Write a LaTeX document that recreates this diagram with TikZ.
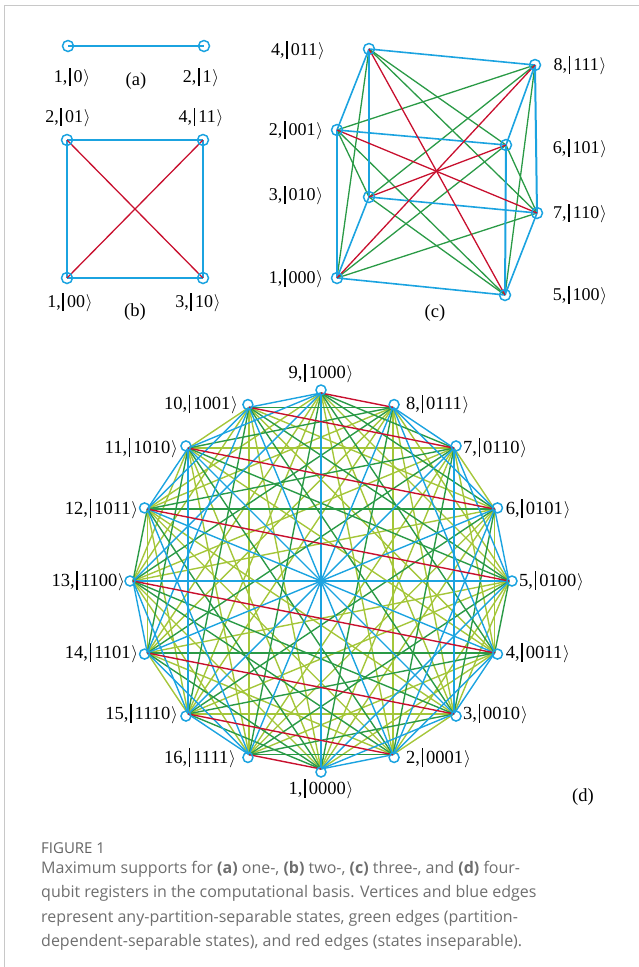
\documentclass[tikz,border=0pt]{standalone}
\usepackage{fontspec}
\setmainfont{Liberation Serif}
\newfontfamily\capfont{Open Sans}
\usepackage{xcolor}
\definecolor{qBlue}{HTML}{1BA3E0}
\definecolor{qRed}{HTML}{C8102E}
\definecolor{qDkGreen}{HTML}{2A9A46}
\definecolor{qLtGreen}{HTML}{A4C639}
\definecolor{capGray}{HTML}{6E6E6E}
\definecolor{frameGray}{HTML}{C8C8C8}
\usepackage{tikz}
\usetikzlibrary{positioning}
\newcommand{\qket}[1]{\kern1.5pt\rule[-0.19em]{1.7pt}{1em}\kern3pt#1\kern0.8pt$\rangle$}

\begin{document}
\begin{tikzpicture}[x=1pt, y=-1pt,
    lab/.style={inner sep=0pt, font=\fontsize{18}{20}\selectfont},
    labd/.style={inner sep=0pt, font=\fontsize{18.5}{20}\selectfont},
    tag/.style={inner sep=0pt, font=\fontsize{18.5}{22}\selectfont},
    vtx/.style={qBlue, line width=1.5pt},
    thickblue/.style={qBlue, line width=2pt},
    edge/.style={line width=1.3pt},
    dedge/.style={line width=1.4pt}]
  \useasboundingbox (0,0) rectangle (639,967);
  \draw[frameGray, line width=0.8pt] (4,967) -- (4,5) -- (639,5);
  % ---- (a) one qubit ----
  \coordinate (a1) at (68,46);
  \coordinate (a2) at (204,46);
  \draw[thickblue] (a1) -- (a2);
  \foreach \v in {a1,a2} \draw[vtx] (\v) circle (5.5pt);
  \node[lab] (la1) at (72,77) {1,\qket{0}};
  \node[lab] (la2) at (201,77) {2,\qket{1}};
  \node[tag] (taga) at (136,81) {(a)};
  % ---- (b) two qubits ----
  \coordinate (b1) at (67,278);
  \coordinate (b2) at (67,140);
  \coordinate (b3) at (203,278);
  \coordinate (b4) at (203,140);
  \foreach \p/\q in {1/2,1/3,2/4,3/4} \draw[thickblue] (b\p) -- (b\q);
  \foreach \p/\q in {1/4,2/3} \draw[edge, qRed] (b\p) -- (b\q);
  \foreach \v in {1,...,4} \draw[vtx] (b\v) circle (5.5pt);
  \node[lab] (lb2) at (68,117) {2,\qket{01}};
  \node[lab] (lb4) at (201,117) {4,\qket{11}};
  \node[lab] (lb1) at (70,302) {1,\qket{00}};
  \node[lab] (lb3) at (198,302) {3,\qket{10}};
  \node[tag] (tagb) at (135,312) {(b)};
  % ---- (c) three qubits ----
  \coordinate (c1) at (337,278);
  \coordinate (c2) at (337,130);
  \coordinate (c3) at (369,197);
  \coordinate (c4) at (369,49);
  \coordinate (c5) at (505,295);
  \coordinate (c6) at (506,145);
  \coordinate (c7) at (537,213);
  \coordinate (c8) at (535,65);
  \foreach \p/\q in {1/4,1/6,1/7,2/3,2/5,2/8,3/5,3/8,4/6,4/7,5/8,6/7}
    \draw[edge, qDkGreen] (c\p) -- (c\q);
  \foreach \p/\q in {1/3,1/5,2/4,2/6,3/7,4/8,5/7,6/8}
    \draw[edge, qBlue, line width=1.6pt] (c\p) -- (c\q);
  \foreach \p/\q in {1/2,3/4,5/6,7/8}
    \draw[thickblue] (c\p) -- (c\q);
  \foreach \p/\q in {1/8,2/7,3/6,4/5}
    \draw[edge, qRed] (c\p) -- (c\q);
  \foreach \v in {1,...,8} \draw[vtx] (c\v) circle (5.5pt);
  \node[lab] (lc4) at (298,50) {4,\qket{011}};
  \node[lab] (lc2) at (296,130) {2,\qket{001}};
  \node[lab] (lc3) at (296,195) {3,\qket{010}};
  \node[lab] (lc1) at (296,278) {1,\qket{000}};
  \node[lab] (lc8) at (580,65) {8,\qket{111}};
  \node[lab] (lc6) at (580,148) {6,\qket{101}};
  \node[lab] (lc7) at (580,213) {7,\qket{110}};
  \node[lab] (lc5) at (580,295) {5,\qket{100}};
  \node[tag] (tagc) at (435,313) {(c)};
  % ---- (d) four qubits ----
  \coordinate (dctr) at (321,581);
  \foreach \k in {1,...,16}
    \path (dctr) ++({270+22.5*(\k-1)}:188pt) coordinate (d\k);
  % colour by number of flipped bits
  \foreach \cls/\col in {2/qLtGreen,3/qDkGreen,1/qBlue,4/qRed} {
    \foreach \i in {1,...,15} {
      \pgfmathtruncatemacro\jstart{\i+1}
      \foreach \j in {\jstart,...,16} {
        \pgfmathtruncatemacro\hd{abs(mod(\i-1,2)-mod(\j-1,2))
          +abs(mod(floor((\i-1)/2),2)-mod(floor((\j-1)/2),2))
          +abs(mod(floor((\i-1)/4),2)-mod(floor((\j-1)/4),2))
          +abs(mod(floor((\i-1)/8),2)-mod(floor((\j-1)/8),2))}
        \ifnum\hd=\cls \draw[dedge, \col] (d\i) -- (d\j); \fi
      }
    }
  }
  \foreach \k in {1,...,16}
    \draw[vtx] (dctr) ++({270+22.5*(\k-1)}:191pt) circle (5pt);
  \node[labd, above=10pt of d9] (ld9) {9,\qket{1000}};
  \node[labd, below=10pt of d1] (ld1) {1,\qket{0000}};
  \node[labd, left=11pt of d10, yshift=3pt] (ld10) {10,\qket{1001}};
  \node[labd, left=10pt of d11] (ld11) {11,\qket{1010}};
  \node[labd, left=9pt of d12] (ld12) {12,\qket{1011}};
  \node[labd, left=8pt of d13] (ld13) {13,\qket{1100}};
  \node[labd, left=9pt of d14] (ld14) {14,\qket{1101}};
  \node[labd, left=10pt of d15] (ld15) {15,\qket{1110}};
  \node[labd, left=13pt of d16, yshift=-3pt] (ld16) {16,\qket{1111}};
  \node[labd, right=13pt of d8, yshift=3pt] (ld8) {8,\qket{0111}};
  \node[labd, right=9pt of d7] (ld7) {7,\qket{0110}};
  \node[labd, right=11pt of d6] (ld6) {6,\qket{0101}};
  \node[labd, right=10pt of d5] (ld5) {5,\qket{0100}};
  \node[labd, right=11pt of d4] (ld4) {4,\qket{0011}};
  \node[labd, right=9pt of d3] (ld3) {3,\qket{0010}};
  \node[labd, right=13pt of d2, yshift=-3pt] (ld2) {2,\qket{0001}};
  \node[tag] (tagd) at (583,797) {(d)};
  % ---- caption ----
  \node[anchor=west, inner sep=0pt, text=capGray!90!black,
    font=\capfont\fontsize{15}{16}\selectfont] (fighead) at (41,848) {FIGURE 1};
  \node[anchor=north west, inner sep=0pt, text=capGray, align=left,
    font=\capfont\fontsize{16}{24.3}\selectfont] (figcap) at (41,861)
    {Maximum supports for \textbf{(a)} one-, \textbf{(b)} two-, \textbf{(c)} three-, and \textbf{(d)} four-\\
     qubit registers in the computational basis. Vertices and blue edges\\
     represent any-partition-separable states, green edges (partition-\\
     dependent-separable states), and red edges (states inseparable).};
\end{tikzpicture}
\end{document}
